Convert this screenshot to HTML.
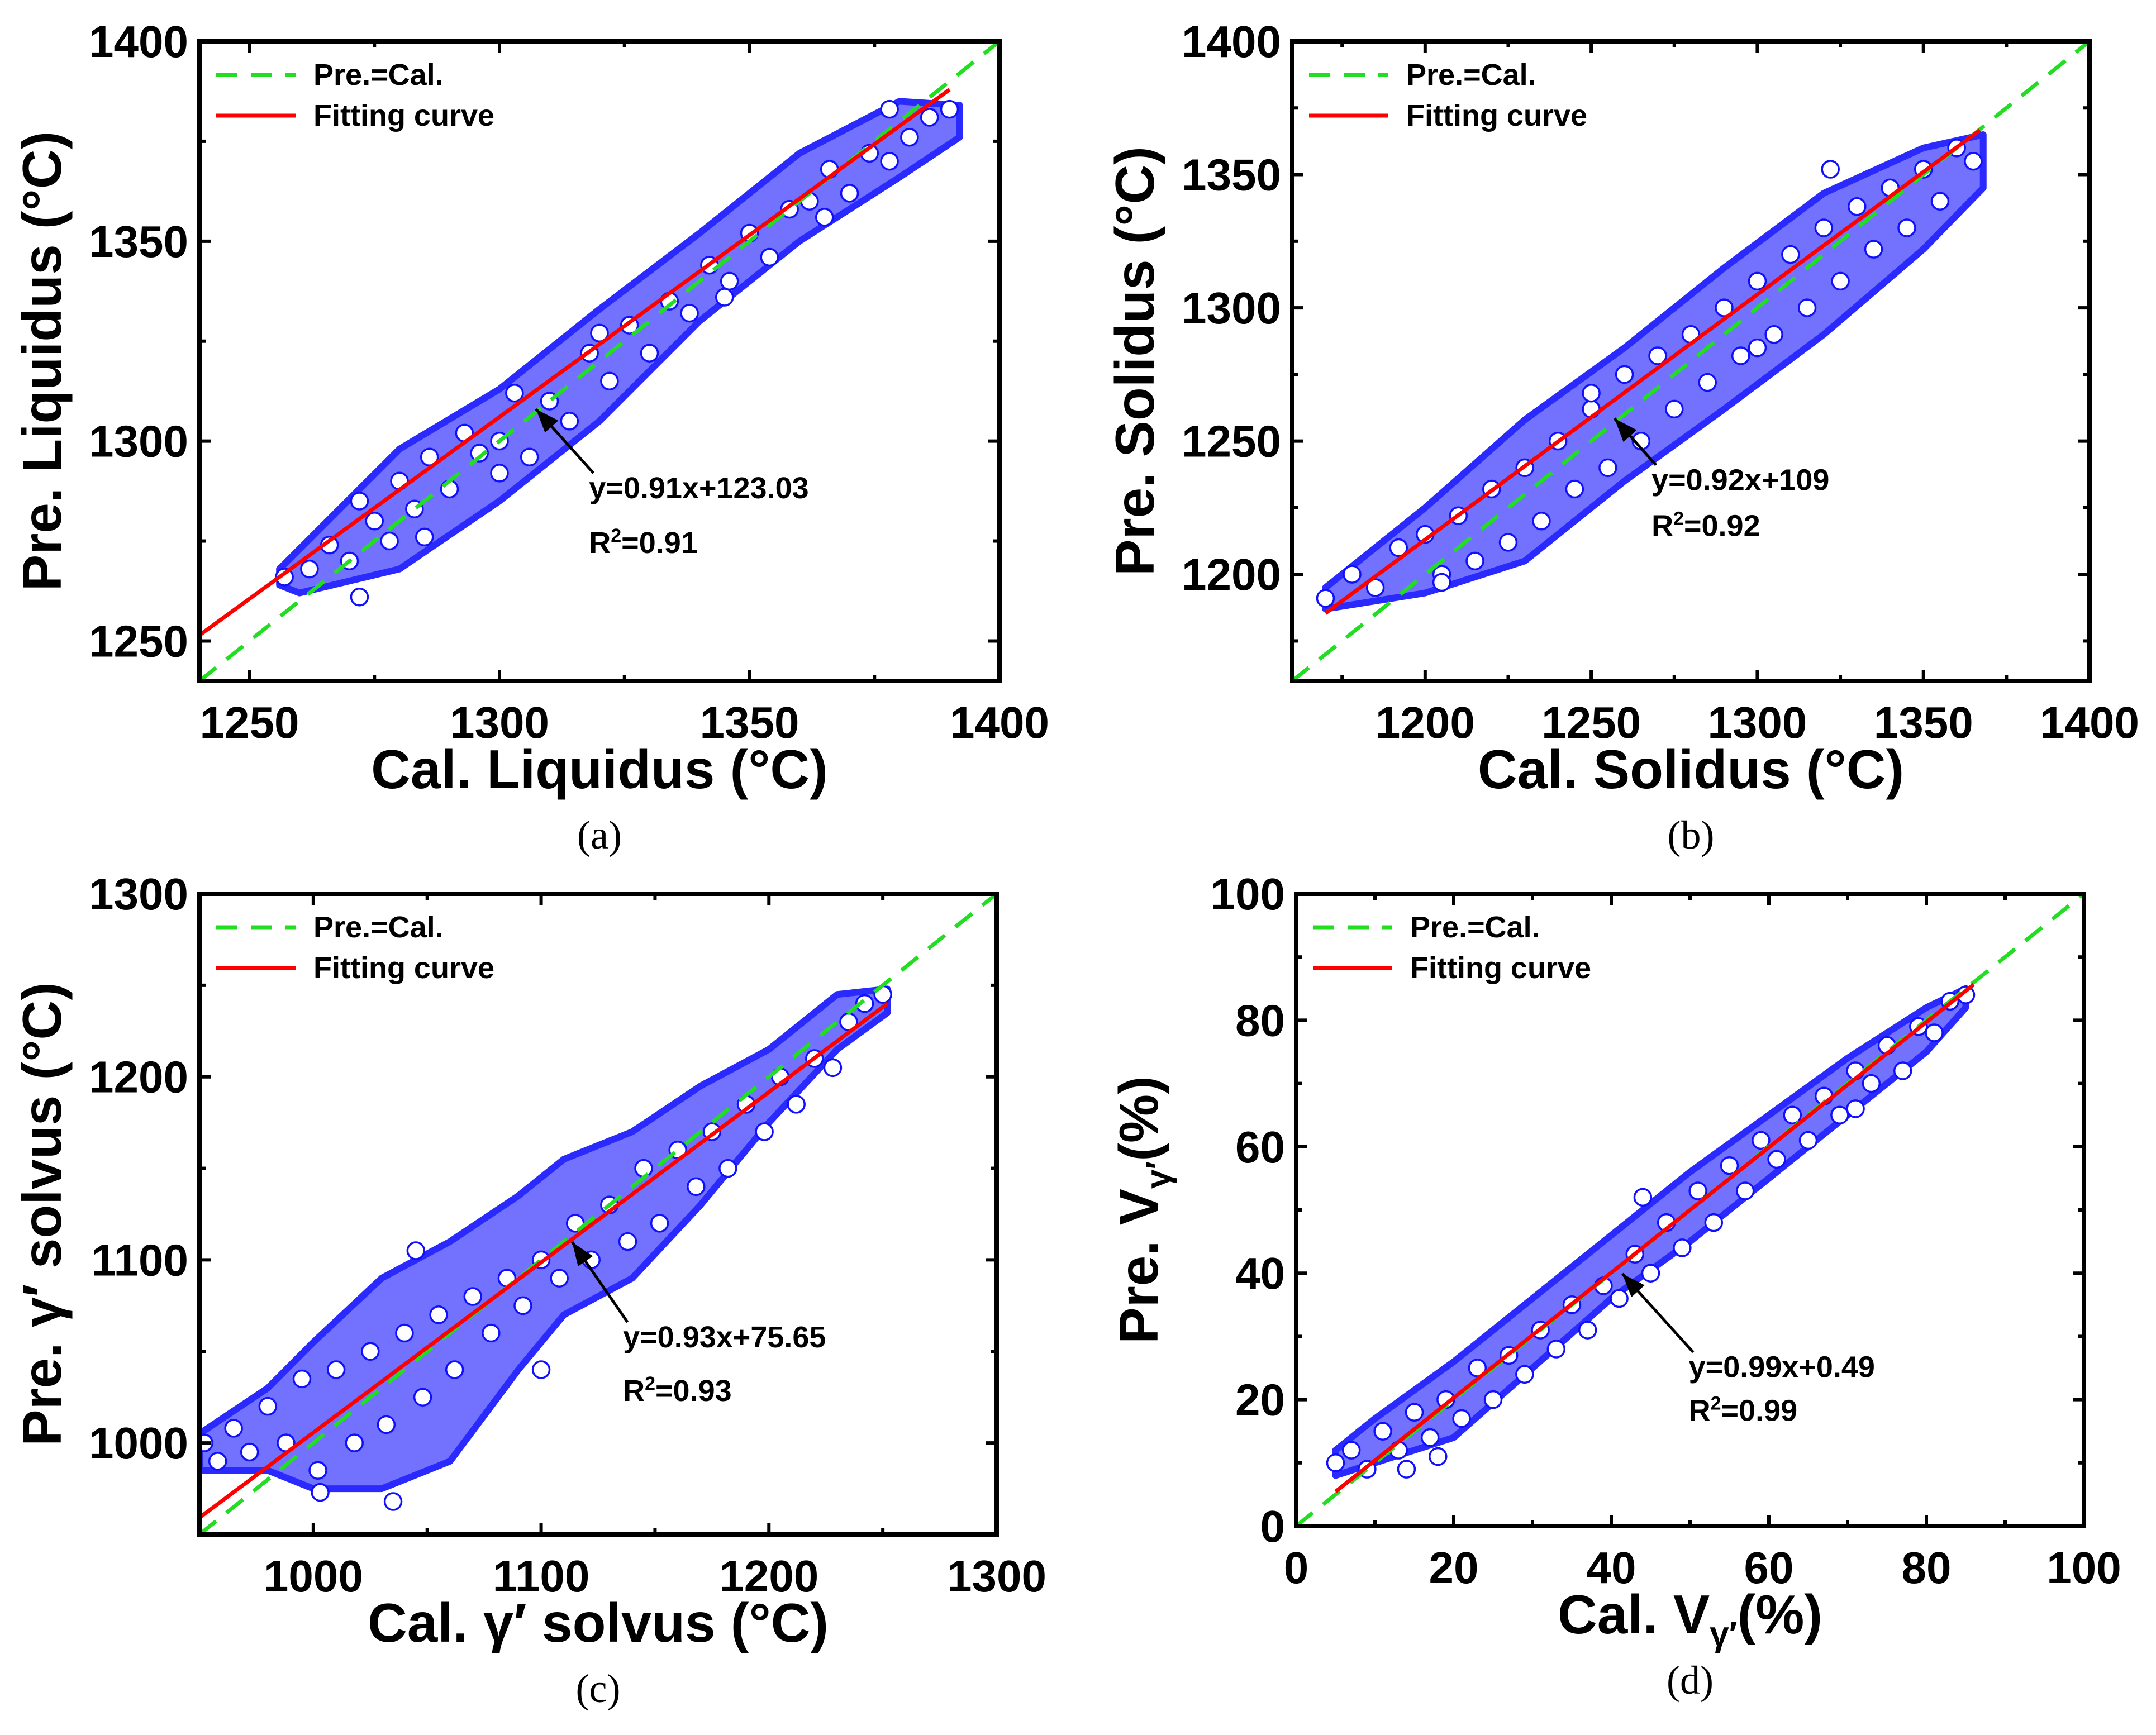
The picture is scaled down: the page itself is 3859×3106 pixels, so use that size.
<!DOCTYPE html>
<html><head><meta charset="utf-8"><style>
html,body{margin:0;padding:0;background:#fff;}
svg{display:block;font-family:"Liberation Sans",sans-serif;}
</style></head><body>
<svg id="fig" width="3859" height="3106" viewBox="0 0 3859 3106" xmlns="http://www.w3.org/2000/svg"></svg>
<script>
// ---- Panel (a) data ----
const aX=[1257,1262,1266,1270,1272,1275,1278,1280,1283,1286,1290,1293,1296,1300,1303,1306,1310,1314,1318,1322,1326,1330,1334,1338,1342,1346,1350,1354,1358,1362,1366,1370,1374,1378,1382,1386,1390,1272,1285,1300,1320,1345,1365,1378];
const aY=[1266,1268,1274,1270,1261,1280,1275,1290,1283,1296,1288,1302,1297,1300,1312,1296,1310,1305,1322,1315,1329,1322,1335,1332,1344,1340,1352,1346,1358,1360,1368,1362,1372,1383,1376,1381,1383,1285,1276,1292,1327,1336,1356,1370];
const aEnvX=[1256,1260,1280,1300,1320,1340,1360,1380,1392];
const aEnvLo=[1264,1262,1268,1285,1305,1330,1350,1366,1376];
const aEnvHi=[1268,1273,1298,1313,1333,1352,1372,1385,1384];
const aTicks=[1250,1300,1350,1400];
// ---- Panel (b) data ----
const bX=[1170,1178,1185,1192,1200,1205,1210,1215,1220,1225,1230,1235,1240,1245,1250,1255,1260,1265,1270,1275,1280,1285,1290,1295,1300,1305,1310,1315,1320,1325,1330,1335,1340,1345,1350,1355,1360,1365,1205,1250,1300,1322];
const bY=[1191,1200,1195,1210,1215,1200,1222,1205,1232,1212,1240,1220,1250,1232,1262,1240,1275,1250,1282,1262,1290,1272,1300,1282,1310,1290,1320,1300,1330,1310,1338,1322,1345,1330,1352,1340,1360,1355,1197,1268,1285,1352];
const bEnvX=[1170,1200,1230,1260,1290,1320,1350,1368];
const bEnvLo=[1187,1193,1205,1235,1262,1290,1322,1345];
const bEnvHi=[1195,1225,1258,1285,1315,1343,1360,1365];
const bTicks=[1200,1250,1300,1350,1400];
// ---- Panel (c) data ----
const cX=[952,958,965,972,980,988,995,1002,1010,1018,1025,1032,1040,1048,1055,1062,1070,1078,1085,1092,1100,1108,1115,1122,1130,1138,1145,1152,1160,1168,1175,1182,1190,1198,1205,1212,1220,1228,1235,1242,1250,1035,1003,1100,1045];
const cY=[1000,990,1008,995,1020,1000,1035,985,1040,1000,1050,1010,1060,1025,1070,1040,1080,1060,1090,1075,1100,1090,1120,1100,1130,1110,1150,1120,1160,1140,1170,1150,1185,1170,1200,1185,1210,1205,1230,1240,1245,968,973,1040,1105];
const cEnvX=[950,980,1000,1030,1060,1090,1110,1140,1170,1200,1230,1252];
const cEnvLo=[985,985,975,975,990,1040,1070,1090,1130,1175,1215,1235];
const cEnvHi=[1005,1030,1055,1090,1110,1135,1155,1170,1195,1215,1245,1248];
const cTicks=[1000,1100,1200,1300];
// ---- Panel (d) data ----
const dX=[5,7,9,11,13,15,17,19,21,23,25,27,29,31,33,35,37,39,41,43,45,47,49,51,53,55,57,59,61,63,65,67,69,71,73,75,77,79,81,83,85,14,18,44,71];
const dY=[10,12,9,15,12,18,14,20,17,25,20,27,24,31,28,35,31,38,36,43,40,48,44,53,48,57,53,61,58,65,61,68,65,72,70,76,72,79,78,83,84,9,11,52,66];
const dEnvX=[5,10,20,30,40,50,60,70,80,85];
const dEnvLo=[8,10,14,25,36,45,55,65,75,82];
const dEnvHi=[12,17,26,36,46,56,65,74,82,85];
const dTicks=[0,20,40,60,80,100];
// fit coefficients
const fitA=[0.91,123.03], fitB=[0.92,109], fitC=[0.93,75.65], fitD=[0.99,0.49];

const NS="http://www.w3.org/2000/svg";
const svg=document.getElementById('fig');
function mk(tag,attrs,parent){const e=document.createElementNS(NS,tag);for(const k in attrs)e.setAttribute(k,attrs[k]);(parent||svg).appendChild(e);return e;}

function panel(o){
  const g=mk('g',{});
  
  
  const sx=v=>o.L+(v-o.x0)/(o.x1-o.x0)*(o.R-o.L);
  const sy=v=>o.B-(v-o.y0)/(o.y1-o.y0)*(o.B-o.T);
  const cp=mk('clipPath',{id:'clip'+o.id},g);
  mk('rect',{x:o.L,y:o.T,width:o.R-o.L,height:o.B-o.T},cp);
  const pg=mk('g',{'clip-path':'url(#clip'+o.id+')'},g);
  let pts=[];
  o.ex.forEach((x,i)=>pts.push(sx(x)+','+sy(o.ehi[i])));
  for(let i=o.ex.length-1;i>=0;i--)pts.push(sx(o.ex[i])+','+sy(o.elo[i]));
  const band=mk('polygon',{points:pts.join(' '),fill:'#7272ff',stroke:'#2a2aff','stroke-width':12,'stroke-linejoin':'round'},pg);
  
  
  const n=Math.min(o.px.length,o.py.length);
  for(let i=0;i<n;i++){
    const c=mk('circle',{cx:sx(o.px[i]),cy:sy(o.py[i]),r:15,fill:'#fff',stroke:'#1010ff','stroke-width':3.5},pg);
    
    
  }
  const d=mk('line',{x1:sx(o.x0),y1:sy(o.x0),x2:sx(o.x1),y2:sy(o.x1),stroke:'#22dd22','stroke-width':7,'stroke-dasharray':'38,24'},pg);
  
  
  const f=mk('line',{x1:sx(o.f0),y1:sy(o.fit[0]*o.f0+o.fit[1]),x2:sx(o.f1),y2:sy(o.fit[0]*o.f1+o.fit[1]),stroke:'#ff0000','stroke-width':7},pg);
  
  
  const fr=mk('rect',{x:o.L,y:o.T,width:o.R-o.L,height:o.B-o.T,fill:'none',stroke:'#000','stroke-width':8},g);
  
  
  const step=o.ticks[1]-o.ticks[0];
  const minors=[];for(let v=o.ticks[0]-step/2;v<=o.x1;v+=step/2)minors.push(v);
  minors.forEach(v=>{
    if(v<o.x0||v>o.x1)return;
    const major=o.ticks.some(t=>Math.abs(t-v)<1e-6);const len=major?20:11;
    mk('line',{x1:sx(v),y1:o.B,x2:sx(v),y2:o.B-len,stroke:'#000','stroke-width':6},g);
    mk('line',{x1:sx(v),y1:o.T,x2:sx(v),y2:o.T+len,stroke:'#000','stroke-width':6},g);
  });
  minors.forEach(v=>{
    if(v<o.y0||v>o.y1)return;
    const major=o.ticks.some(t=>Math.abs(t-v)<1e-6);const len=major?20:11;
    mk('line',{x1:o.L,y1:sy(v),x2:o.L+len,y2:sy(v),stroke:'#000','stroke-width':6},g);
    mk('line',{x1:o.R,y1:sy(v),x2:o.R-len,y2:sy(v),stroke:'#000','stroke-width':6},g);
  });
  o.ticks.forEach(v=>{
    const t=mk('text',{x:sx(v),y:o.B+102,'text-anchor':'middle','font-size':80,'font-weight':'bold'},g);
    t.textContent=v;
    
    
    const u=mk('text',{x:o.L-20,y:sy(v)+28,'text-anchor':'end','font-size':80,'font-weight':'bold'},g);
    u.textContent=v;
    
    
  });
  const xt=mk('text',{x:(o.L+o.R)/2,y:o.B+192,'text-anchor':'middle','font-size':98,'font-weight':'bold'},g);
  xt.innerHTML=o.xt;
  
  
  const yt=mk('text',{x:0,y:0,'text-anchor':'middle','font-size':98,'font-weight':'bold',transform:'translate('+(o.L-248)+','+((o.T+o.B)/2)+') rotate(-90)'},g);
  yt.innerHTML=o.yt;
  
  
  const lg=mk('g',{},g);
  
  
  mk('line',{x1:o.L+30,y1:o.T+60,x2:o.L+172,y2:o.T+60,stroke:'#22dd22','stroke-width':7,'stroke-dasharray':'38,24'},lg);
  const l1=mk('text',{x:o.L+204,y:o.T+78,'font-size':54,'font-weight':'bold'},lg);l1.textContent='Pre.=Cal.';
  
  
  mk('line',{x1:o.L+30,y1:o.T+133,x2:o.L+172,y2:o.T+133,stroke:'#ff0000','stroke-width':7},lg);
  const l2=mk('text',{x:o.L+204,y:o.T+151,'font-size':54,'font-weight':'bold'},lg);l2.textContent='Fitting curve';
  
  
  const ax1=sx(o.ar[0]),ay1=sy(o.ar[1]),ax2=sx(o.ar[2]),ay2=sy(o.ar[3]);
  mk('line',{x1:ax1,y1:ay1,x2:ax2,y2:ay2,stroke:'#000','stroke-width':5},g);
  const ang=Math.atan2(ay2-ay1,ax2-ax1),h=42,w=16;
  const bx=ax2-h*Math.cos(ang),by=ay2-h*Math.sin(ang);
  const ah=mk('polygon',{points:ax2+','+ay2+' '+(bx+w*Math.sin(ang))+','+(by-w*Math.cos(ang))+' '+(bx-w*Math.sin(ang))+','+(by+w*Math.cos(ang)),fill:'#000'},g);
  
  
  const eq=mk('text',{x:ax1-8,y:ay1+45,'font-size':54,'font-weight':'bold'},g);eq.textContent=o.eq;
  
  
  const r2=mk('text',{x:ax1-8,y:ay1+45+o.r2dy,'font-size':54,'font-weight':'bold'},g);
  r2.innerHTML='R<tspan dy="-20" font-size="34">2</tspan><tspan dy="20">='+o.r2+'</tspan>';
  
  
  const cap=mk('text',{x:(o.L+o.R)/2,y:o.B+300,'text-anchor':'middle','font-size':72,'font-family':'Liberation Serif, serif'},g);
  cap.textContent='('+o.id+')';
  
  
}

panel({id:'a',L:357,R:1789,T:74,B:1219,x0:1240,x1:1400,y0:1240,y1:1400,px:aX,py:aY,ex:aEnvX,elo:aEnvLo,ehi:aEnvHi,ticks:aTicks,fit:fitA,f0:1240,f1:1390,
  xt:'Cal. Liquidus (°C)',yt:'Pre. Liquidus (°C)',ar:[1318.8,1292,1307.3,1308],eq:'y=0.91x+123.03',r2:'0.91',r2dy:98});
panel({id:'b',L:2313,R:3740,T:74,B:1219,x0:1160,x1:1400,y0:1160,y1:1400,px:bX,py:bY,ex:bEnvX,elo:bEnvLo,ehi:bEnvHi,ticks:bTicks,fit:fitB,f0:1170,f1:1367,
  xt:'Cal. Solidus (°C)',yt:'Pre. Solidus (°C)',ar:[1269.5,1241,1257,1258.5],eq:'y=0.92x+109',r2:'0.92',r2dy:82});
panel({id:'c',L:357,R:1784,T:1600,B:2747,x0:950,x1:1300,y0:950,y1:1300,px:cX,py:cY,ex:cEnvX,elo:cEnvLo,ehi:cEnvHi,ticks:cTicks,fit:fitC,f0:950,f1:1252,
  xt:'Cal. γ′ solvus (°C)',yt:'Pre. γ′ solvus (°C)',ar:[1137.9,1066,1113.6,1109.8],eq:'y=0.93x+75.65',r2:'0.93',r2dy:96});
panel({id:'d',L:2320,R:3730,T:1600,B:2732,x0:0,x1:100,y0:0,y1:100,px:dX,py:dY,ex:dEnvX,elo:dEnvLo,ehi:dEnvHi,ticks:dTicks,fit:fitD,f0:5,f1:86,
  xt:'Cal. V<tspan dy="22" font-size="62">γ′</tspan><tspan dy="-22">(%)</tspan>',yt:'Pre. V<tspan dy="22" font-size="62">γ′</tspan><tspan dy="-22">(%)</tspan>',ar:[50.4,27.5,41.4,39.9],eq:'y=0.99x+0.49',r2:'0.99',r2dy:78});
</script>
</body></html>
